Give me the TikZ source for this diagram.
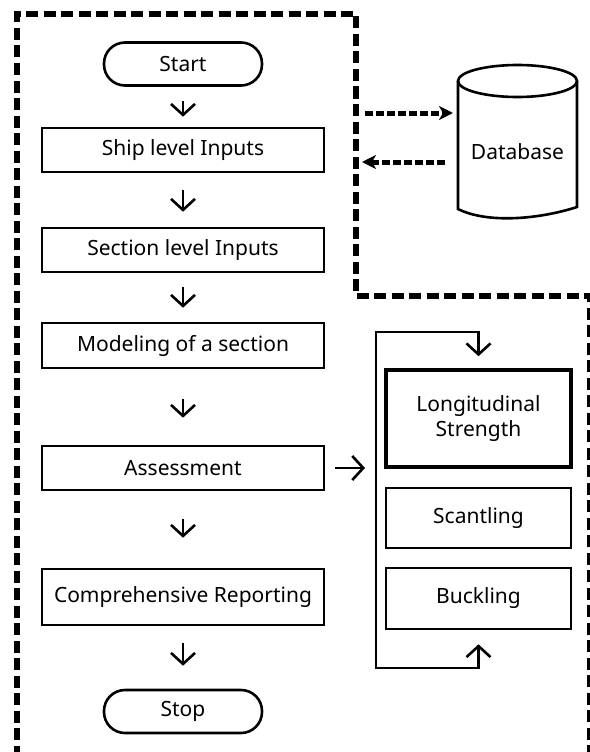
\documentclass[tikz,border=0pt]{standalone}
\usepackage{fontspec}
\setmainfont{Noto Sans}
\usetikzlibrary{arrows.meta,calc}

\begin{document}
\begin{tikzpicture}[x=1pt,y=-1pt,
    font=\fontsize{21}{25}\selectfont,
    boite/.style={draw,line width=2.6pt,minimum width=282pt,minimum height=44pt,inner sep=0pt},
    terminal/.style={draw,line width=2.6pt,rounded corners=21pt,minimum width=158pt,minimum height=43pt,inner sep=0pt},
    module/.style={draw,line width=2.6pt,minimum width=185pt,inner sep=0pt,align=center},
    fleche/.style={line width=2.6pt,-{Straight Barb[length=11pt,width=24pt]}},
    boucle/.style={line width=2.6pt,{Straight Barb[length=11pt,width=24pt]}-{Straight Barb[length=11pt,width=24pt]}},
    lien/.style={line width=5pt,dash pattern=on 8pt off 3pt,-{Stealth[length=14pt,width=14pt,inset=4pt]}},
    cadre/.style={line width=5.5pt,dash pattern=on 12pt off 5.5pt}]

    \useasboundingbox (0,0) rectangle (589,752);

    % Colonne principale
    \pgfmathsetmacro{\xcol}{183}
    \node[terminal] (start) at (\xcol,64) {Start};
    \node[boite] (ship) at (\xcol,150) {Ship level Inputs};
    \node[boite] (section) at (\xcol,250) {Section level Inputs};
    \node[boite,minimum height=45pt] (model) at (\xcol,345.5) {Modeling of a section};
    \node[boite] (assess) at (\xcol,468) {Assessment};
    \node[boite,minimum height=56pt] (report) at (\xcol,597) {Comprehensive Reporting};
    \node[terminal] (stop) at (\xcol,711.5) {Stop};

    % Fleches verticales (ecart haut / ecart bas)
    \foreach \src/\dst/\ga/\gb in {
        start/ship/14/10,
        ship/section/17/15,
        section/model/14/14,
        model/assess/30/27,
        assess/report/28/30,
        report/stop/17/23
    }{
      \draw[fleche,shorten <=\ga pt,shorten >=\gb pt] (\src.south) -- (\dst.north);
    }

    % Modules d'evaluation
    \node[module,line width=3.6pt,minimum height=97pt] (longi) at (478.5,418.5) {Longitudinal\\Strength};
    \node[module,minimum height=60pt] (scant) at (478.5,518) {Scantling};
    \node[module,minimum height=61pt] (buck) at (478.5,598.5) {Buckling};

    % Boucle
    \coordinate (boucleG) at (376,332);
    \draw[boucle] ($(buck.south)+(0,14)$) |- (376,668) -- (boucleG) -| ($(longi.north)+(0,-12)$);
    \draw[fleche,shorten <=10pt,shorten >=11pt] (assess.east) -- (assess.east -| boucleG);

    % Base de donnees
    \node (db) at (517.5,152) {Database};
    \draw[line width=2.6pt] (458,81) -- (458,209) .. controls (488,224) and (540,219) .. (577,207) -- (577,81);
    \draw[line width=2.6pt] (517.5,81) ellipse [x radius=59.5, y radius=16];
    \coordinate (cylG) at (458,150);

    % Cadre en pointilles
    \draw[cadre] (17,775) -- (17,14) -- (356,14) -- (356,296) -- (590,296) -- (590,775);
    \coordinate (portH) at (356,113);
    \coordinate (portB) at (356,162);
    \draw[lien,shorten <=9pt,shorten >=5pt] (portH) -- (portH -| cylG);
    \draw[lien,shorten <=13pt,shorten >=6pt] (portB -| cylG) -- (portB);

\end{tikzpicture}
\end{document}
